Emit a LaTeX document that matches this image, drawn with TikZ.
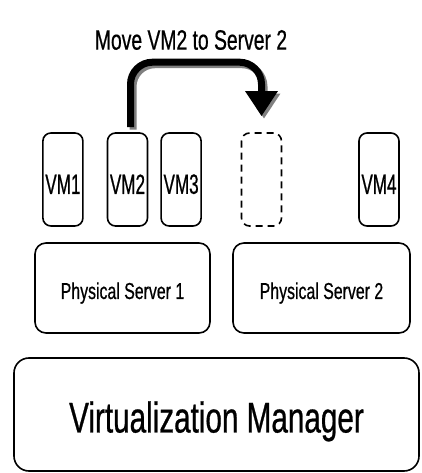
\documentclass[tikz,border=0pt]{standalone}
\usepackage{fontspec}
\setmainfont{Liberation Sans}
\newfontfamily\narrowsf[FakeStretch=0.69,FakeBold=0.6]{Liberation Sans}
\newfontfamily\vmsf[FakeStretch=0.61,FakeBold=0.6]{Liberation Sans}
\usetikzlibrary{positioning}
\usetikzlibrary{arrows.meta}

\begin{document}
\begin{tikzpicture}[x=1pt,y=1pt,node distance=12pt,
  vmbox/.style={draw,rounded corners=8pt,line width=1.6pt,inner sep=0pt,
    minimum width=40pt,minimum height=93pt,text height=29pt,
    font=\vmsf\fontsize{28}{30}\selectfont},
  serverbox/.style={draw,rounded corners=11pt,line width=1.6pt,inner sep=0pt,
    minimum height=90pt,text height=27pt,text depth=5pt,
    font=\narrowsf\fontsize{23}{26}\selectfont},
  movearrow/.style={line width=7pt,rounded corners=22pt,
    -{Triangle[width=31pt,length=25pt]}}]
\useasboundingbox (0,0) rectangle (421,473);

% VMs on both servers
\path node[vmbox] at (127.5,293.5) (vm2) {VM2};
\path node[vmbox,left=23pt of vm2] (vm1) {VM1};
\path node[vmbox,right=of vm2] (vm3) {VM3};
\path node[vmbox,dashed,dash pattern=on 7pt off 5pt] at (261.5,293.5) (ghost) {};
\path node[vmbox] at (379,293.5) (vm4) {VM4};

\path node[serverbox,minimum width=175pt] at (122.5,185) (ps1) {Physical Server 1};
\path node[serverbox,minimum width=177pt] at (321.5,185) (ps2) {Physical Server 2};

\path node[draw,rounded corners=15pt,line width=1.6pt,inner sep=0pt,
  minimum width=405pt,minimum height=113pt,text height=45pt,text depth=9pt,
  font=\narrowsf\fontsize{43}{46}\selectfont] at (216.5,58.5) (mgr) {Virtualization Manager};

% migration arrow with its shadow
\begin{scope}[transform canvas={shift={(2.5pt,-2.5pt)}}]
\draw[movearrow,gray] ([shift={(3pt,5pt)}]vm2.north) |- ([yshift=70pt]ghost.north) -- ([yshift=16pt]ghost.north);
\end{scope}
\draw[movearrow,black] ([shift={(3pt,5pt)}]vm2.north) |- ([yshift=70pt]ghost.north) -- ([yshift=16pt]ghost.north);

\path node[font=\narrowsf\fontsize{28}{32}\selectfont] at (191,433) (mv) {Move VM2 to Server 2};
\end{tikzpicture}
\end{document}
